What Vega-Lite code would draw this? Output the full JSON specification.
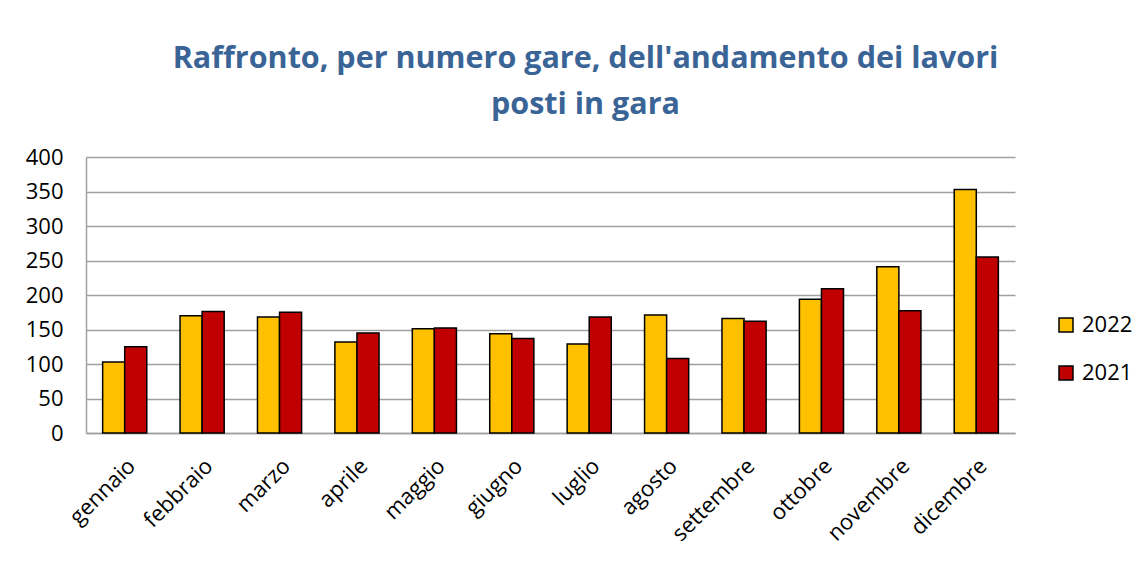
{
  "$schema": "https://vega.github.io/schema/vega-lite/v6.json",
  "width": 929,
  "height": 276,
  "autosize": {"type": "none"},
  "padding": {"left": 86, "top": 157, "right": 130, "bottom": 130},
  "background": "white",
  "title": {
    "text": ["Raffronto, per numero gare, dell'andamento dei lavori", "posti in gara"],
    "font": "Open Sans",
    "fontSize": 30.5,
    "fontWeight": "bold",
    "color": "#3A6496",
    "anchor": "middle",
    "dx": 35,
    "offset": 26,
    "lineHeight": 46
  },
  "data": {
    "values": [
      {"mese": "gennaio", "anno": "2022", "valore": 103},
      {"mese": "gennaio", "anno": "2021", "valore": 125},
      {"mese": "febbraio", "anno": "2022", "valore": 170},
      {"mese": "febbraio", "anno": "2021", "valore": 176},
      {"mese": "marzo", "anno": "2022", "valore": 168},
      {"mese": "marzo", "anno": "2021", "valore": 175},
      {"mese": "aprile", "anno": "2022", "valore": 132},
      {"mese": "aprile", "anno": "2021", "valore": 145},
      {"mese": "maggio", "anno": "2022", "valore": 151},
      {"mese": "maggio", "anno": "2021", "valore": 152},
      {"mese": "giugno", "anno": "2022", "valore": 144},
      {"mese": "giugno", "anno": "2021", "valore": 137},
      {"mese": "luglio", "anno": "2022", "valore": 129},
      {"mese": "luglio", "anno": "2021", "valore": 168},
      {"mese": "agosto", "anno": "2022", "valore": 171},
      {"mese": "agosto", "anno": "2021", "valore": 108},
      {"mese": "settembre", "anno": "2022", "valore": 166},
      {"mese": "settembre", "anno": "2021", "valore": 162},
      {"mese": "ottobre", "anno": "2022", "valore": 194},
      {"mese": "ottobre", "anno": "2021", "valore": 209},
      {"mese": "novembre", "anno": "2022", "valore": 241},
      {"mese": "novembre", "anno": "2021", "valore": 177},
      {"mese": "dicembre", "anno": "2022", "valore": 353},
      {"mese": "dicembre", "anno": "2021", "valore": 255}
    ]
  },
  "mark": {"type": "bar", "stroke": "black", "strokeWidth": 1.5},
  "encoding": {
    "x": {
      "field": "mese",
      "type": "nominal",
      "sort": ["gennaio", "febbraio", "marzo", "aprile", "maggio", "giugno", "luglio", "agosto", "settembre", "ottobre", "novembre", "dicembre"],
      "scale": {"paddingInner": 0.43, "paddingOuter": 0.215},
      "axis": {
        "title": null,
        "labelAngle": -45,
        "labelFont": "Open Sans",
        "labelFontSize": 22,
        "labelColor": "black",
        "ticks": false,
        "labelPadding": 22,
        "domainColor": "#A0A0A0",
        "domainWidth": 1.5,
        "grid": false
      }
    },
    "xOffset": {"field": "anno", "type": "nominal", "sort": ["2022", "2021"]},
    "y": {
      "field": "valore",
      "type": "quantitative",
      "scale": {"domain": [0, 400]},
      "axis": {
        "title": null,
        "values": [0, 50, 100, 150, 200, 250, 300, 350, 400],
        "labelFont": "Open Sans",
        "labelFontSize": 22,
        "labelColor": "black",
        "ticks": false,
        "labelPadding": 23,
        "domainColor": "#A0A0A0",
        "domainWidth": 1.5,
        "grid": true,
        "gridColor": "#A0A0A0",
        "gridWidth": 1.5
      }
    },
    "color": {
      "field": "anno",
      "type": "nominal",
      "scale": {"domain": ["2022", "2021"], "range": ["#FFC000", "#C00000"]},
      "legend": {
        "title": null,
        "orient": "none",
        "legendX": 969,
        "legendY": 157,
        "padding": 0,
        "symbolType": "square",
        "symbolSize": 196,
        "symbolStrokeColor": "black",
        "symbolStrokeWidth": 1.5,
        "labelFont": "Open Sans",
        "labelFontSize": 22,
        "labelColor": "black",
        "labelOffset": 5,
        "rowPadding": 26
      }
    }
  },
  "config": {"view": {"stroke": null}}
}
